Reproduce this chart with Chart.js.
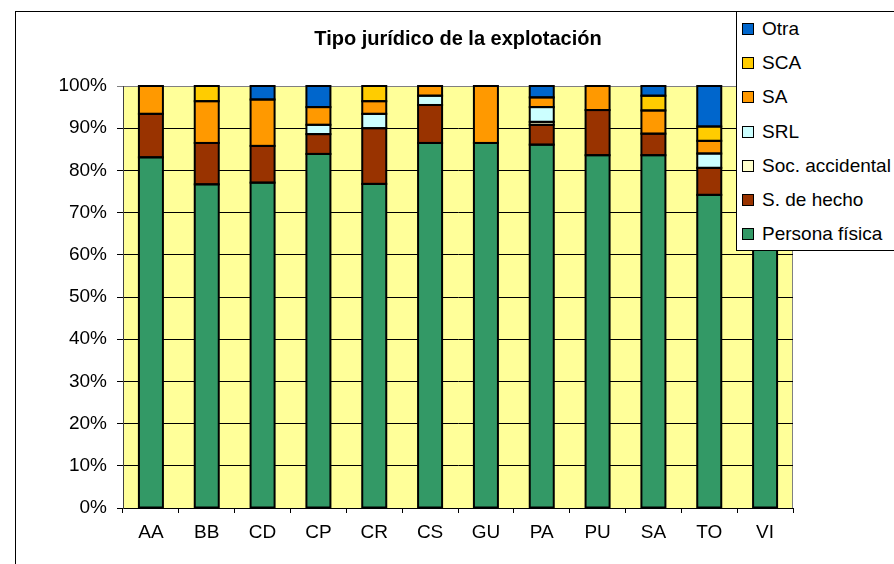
<!DOCTYPE html>
<html>
<head>
<meta charset="utf-8">
<script src="https://cdn.jsdelivr.net/npm/chart.js@4"></script>
<style>
  body { margin: 0; overflow: hidden; background: #fff; }
  #wrap { position: relative; width: 894px; height: 564px; overflow: hidden; }
  #legend {
    position: absolute; left: 736px; top: 11px; width: 180px; height: 240px;
    background: #fff; border: 1px solid #000; box-sizing: border-box;
    font-family: 'Liberation Sans', Arial, sans-serif; font-size: 19px; color: #000;
  }
  .item { display: flex; align-items: center; height: 34.2px; padding-left: 5px; white-space: nowrap; }
  .sw { width: 10px; height: 10px; border: 1px solid #000; margin-right: 8px; flex: none; }
</style>
</head>
<body>
<div id="wrap">
  <canvas id="chart" width="894" height="564"></canvas>
  <div id="legend"></div>
</div>
<script>
var categories = ['AA', 'BB', 'CD', 'CP', 'CR', 'CS', 'GU', 'PA', 'PU', 'SA', 'TO', 'VI'];

// values in %, bottom to top
var personaFisica = [83.1, 76.7, 77.1, 83.9, 76.8, 86.5, 86.5, 86.1, 83.6, 83.6, 74.2, 82.0];
var sDeHecho      = [10.3, 9.8, 8.7, 4.7, 13.2, 9.0, null, 4.7, 10.7, 5.1, 6.4, 9.0];
var socAccidental = [null, null, null, null, null, null, null, 0.7, null, null, null, null];
var srl           = [null, null, null, 2.2, 3.4, 2.2, null, 3.5, null, null, 3.4, null];
var sa            = [6.6, 9.9, 11.0, 4.2, 3.0, 2.3, 13.5, 2.3, 5.7, 5.5, 3.0, 9.0];
var sca           = [null, 3.6, null, null, 3.6, null, null, null, null, 3.5, 3.4, null];
var otra          = [null, null, 3.2, 5.0, null, null, null, 2.7, null, 2.3, 9.6, null];

var yTicks = [0, 10, 20, 30, 40, 50, 60, 70, 80, 90, 100];

var series = [
    { label: 'Persona física', data: personaFisica, color: '#339966' },
    { label: 'S. de hecho', data: sDeHecho, color: '#993300' },
    { label: 'Soc. accidental', data: socAccidental, color: '#FFFFCC' },
    { label: 'SRL', data: srl, color: '#CCFFFF' },
    { label: 'SA', data: sa, color: '#FF9900' },
    { label: 'SCA', data: sca, color: '#FFCC00' },
    { label: 'Otra', data: otra, color: '#0066CC' }
];

var font = "'Liberation Sans', Arial, sans-serif";

// plot background, outer border
var backdrop = {
    id: 'backdrop',
    beforeDraw: function(chart) {
        var c = chart.ctx, a = chart.chartArea;
        c.save();
        c.strokeStyle = '#000';
        c.lineWidth = 1;
        c.strokeRect(15.5, 11.5, 1000, 1000);
        c.fillStyle = '#FFFF99';
        c.fillRect(a.left, a.top, a.right - a.left, a.bottom - a.top);
        c.strokeStyle = '#808080';
        c.beginPath();
        c.moveTo(a.left, a.top + 0.5);
        c.lineTo(a.right - 0.5, a.top + 0.5);
        c.lineTo(a.right - 0.5, a.bottom);
        c.stroke();
        c.restore();
    }
};

// black outline round every bar segment, shared between stacked pieces
var outlines = {
    id: 'outlines',
    afterDatasetsDraw: function(chart) {
        var c = chart.ctx;
        c.save();
        c.strokeStyle = '#000';
        c.lineWidth = 2;
        chart.data.datasets.forEach(function(ds, i) {
            chart.getDatasetMeta(i).data.forEach(function(bar, j) {
                if (ds.data[j] == null) return;
                var p = bar.getProps(['x', 'y', 'base', 'width'], true);
                c.strokeRect(p.x - p.width / 2, p.y, p.width, p.base - p.y);
            });
        });
        c.restore();
    }
};

new Chart(document.getElementById('chart'), {
    type: 'bar',
    data: {
        labels: categories,
        datasets: series.map(function(s) {
            return {
                label: s.label,
                data: s.data,
                backgroundColor: s.color,
                borderWidth: 0,
                barPercentage: 0.43,
                categoryPercentage: 1.0
            };
        })
    },
    options: {
        responsive: false,
        animation: false,
        layout: { padding: { left: 0, right: 101, top: 0, bottom: 0 } },
        plugins: {
            legend: { display: false },
            tooltip: { enabled: false },
            title: {
                display: true,
                fullSize: false,
                text: 'Tipo jurídico de la explotación',
                color: '#000',
                font: { family: font, size: 20, weight: 'bold' },
                padding: { top: 27, bottom: 35 }
            }
        },
        scales: {
            x: {
                stacked: true,
                afterFit: function(s) { s.height = 56; },
                grid: { offset: true, drawOnChartArea: false, drawTicks: true, tickLength: 5, color: '#000' },
                border: { color: '#000' },
                ticks: { color: '#000', font: { family: font, size: 19 }, padding: 8, maxRotation: 0 }
            },
            y: {
                stacked: true,
                min: 0,
                max: 100,
                afterFit: function(s) { s.width = 123; },
                afterBuildTicks: function(s) { s.ticks = yTicks.map(function(v) { return { value: v }; }); },
                grid: {
                    color: function(ctx) { return ctx.tick && ctx.tick.value === 100 ? '#808080' : '#000'; },
                    tickLength: 6
                },
                border: { color: '#404040' },
                ticks: {
                    color: '#000',
                    font: { family: font, size: 19 },
                    padding: 10,
                    callback: function(v) { return v + '%'; }
                }
            }
        }
    },
    plugins: [backdrop, outlines]
});

// legend, top entry is the last series
var legend = document.getElementById('legend');
series.slice().reverse().forEach(function(s) {
    var row = document.createElement('div');
    row.className = 'item';
    var sw = document.createElement('span');
    sw.className = 'sw';
    sw.style.background = s.color;
    row.appendChild(sw);
    row.appendChild(document.createTextNode(s.label));
    legend.appendChild(row);
});
</script>
</body>
</html>
